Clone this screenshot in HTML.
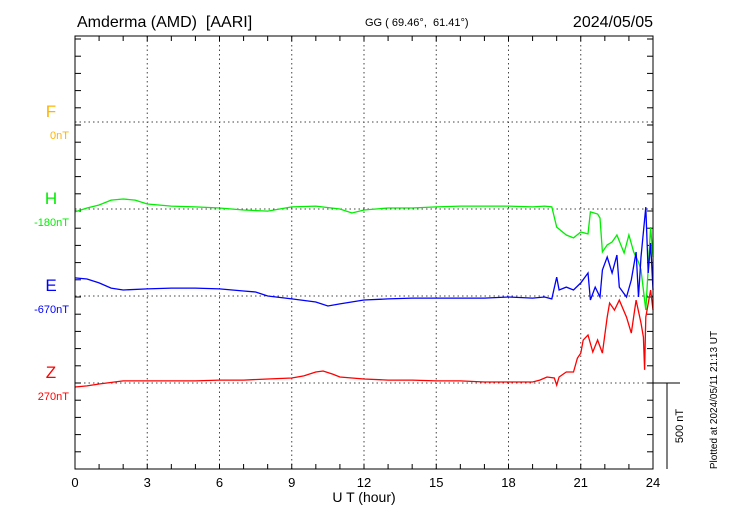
<!DOCTYPE html>
<html><head><meta charset="utf-8"><style>
html,body{margin:0;padding:0;background:#fff;}
svg{display:block;font-family:"Liberation Sans",sans-serif;}
text{white-space:pre;}
</style></head><body>
<svg id="c" width="730" height="520" xmlns="http://www.w3.org/2000/svg">
<text x="77" y="27" font-size="16" xml:space="preserve">Amderma (AMD)  [AARI]</text>
<text x="365" y="26" font-size="11" xml:space="preserve">GG ( 69.46°,  61.41°)</text>
<text x="653" y="27" font-size="16" text-anchor="end">2024/05/05</text>
<text x="364" y="502" font-size="14" text-anchor="middle">U T (hour)</text>
<text transform="translate(717,400) rotate(-90)" font-size="10" text-anchor="middle">Plotted at 2024/05/11 21:13 UT</text>
<text transform="translate(683,426) rotate(-90)" font-size="11" text-anchor="middle">500 nT</text>
<g id="g"></g>
</svg>
<script>
const hours=[0,3,6,9,12,15,18,21,24];
const comps=["F","H","E","Z"];
const baseLabels=["0nT","-180nT","-670nT","270nT"];
const baseVals=[0,-180,-670,270];
const hH=[0,0.5,1,1.5,2,2.5,3,4,5,6,7,8,8.5,9,10,11,11.5,12,13,14,15,16,17,18,19,19.5,19.8,20.0,20.4,20.7,21.0,21.3,21.4,21.7,21.8,21.9,22.1,22.3,22.5,22.8,23.0,23.2,23.4,23.5,23.7,23.9,24.0];
const vH=[-197,-174,-157,-128,-122,-128,-151,-163,-168,-174,-186,-192,-180,-168,-163,-180,-203,-186,-174,-174,-168,-163,-163,-163,-168,-163,-168,-285,-331,-348,-314,-325,-197,-209,-232,-430,-389,-372,-331,-436,-331,-430,-488,-534,-767,-285,-459];
const hE=[0,0.5,1,1.5,2,3,4,5,6,7,7.5,8,9,10,10.5,11,12,13,14,15,16,17,18,19,19.5,19.8,20.0,20.1,20.4,20.7,21.0,21.3,21.4,21.6,21.8,21.9,22.1,22.3,22.5,22.6,22.9,23.1,23.3,23.4,23.5,23.7,23.8,23.9,24.0];
const vE=[-565,-571,-594,-624,-635,-629,-624,-624,-629,-641,-647,-670,-687,-705,-728,-716,-693,-687,-682,-682,-682,-682,-676,-682,-676,-687,-560,-635,-618,-635,-594,-536,-693,-618,-676,-519,-443,-536,-432,-618,-676,-577,-414,-676,-443,-153,-536,-362,-635];
const hZ=[0,0.5,1,2,3,4,5,6,7,8,9,9.5,10,10.3,10.7,11,12,13,14,15,16,17,18,19,19.3,19.6,19.9,20.0,20.1,20.4,20.7,20.86,21.0,21.1,21.3,21.5,21.7,21.9,22.1,22.2,22.4,22.6,22.9,23.1,23.3,23.5,23.6,23.65,23.7,23.9,24.0];
const vZ=[247,253,264,282,282,282,282,287,287,293,299,311,334,340,322,305,293,287,287,282,282,276,276,276,287,305,299,258,305,334,334,415,444,520,549,450,520,444,653,735,694,752,653,560,752,619,537,346,653,810,694];
const X0=75,X1=653,YT=36,YB=469,pxPerNT=86/500;
const baseY=[122,209,296,383];
const colors=["#ffb400","#00ee00","#0000ff","#ff0000"];
const x=h=>X0+(X1-X0)*h/24;
const y=(i,v)=>baseY[i]-(v-baseVals[i])*pxPerNT;
const g=document.getElementById('g');
const NS="http://www.w3.org/2000/svg";
function mk(t,a){const e=document.createElementNS(NS,t);for(const k in a)e.setAttribute(k,a[k]);g.appendChild(e);return e;}
for(let k=1;k<hours.length-1;k++){const e=mk('line',{x1:x(hours[k]),x2:x(hours[k]),y1:YT,y2:YB,stroke:'#444','stroke-dasharray':'1.5,3'});

}
baseY.forEach(b=>{const e=mk('line',{x1:X0,x2:X1,y1:b,y2:b,stroke:'#444','stroke-dasharray':'1.5,3'});

});
for(let h=1;h<24;h++){const e=mk('line',{x1:x(h),x2:x(h),y1:YT,y2:YT+5,stroke:'#000'});


const e2=mk('line',{x1:x(h),x2:x(h),y1:YB,y2:YB-5,stroke:'#000'});

}
for(let yy=YB;yy>YT;yy-=17.2){const e=mk('line',{x1:X1,x2:X1-6,y1:yy,y2:yy,stroke:'#000'});


const e2=mk('line',{x1:X0,x2:X0+6,y1:yy,y2:yy,stroke:'#000'});

}
hours.forEach(h=>{const t=mk('text',{x:x(h),y:487,'font-size':13,'text-anchor':'middle'});t.textContent=h;

});
comps.forEach((c,i)=>{const t=mk('text',{x:51,y:baseY[i]-5,'font-size':17,'text-anchor':'middle',fill:colors[i]});t.textContent=c;


const t2=mk('text',{x:69,y:baseY[i]+17,'font-size':11,'text-anchor':'end',fill:colors[i]});t2.textContent=baseLabels[i];

});
[[1,hH,vH],[2,hE,vE],[3,hZ,vZ]].forEach(([i,hs,vs])=>{
const d=hs.map((h,k)=>(k?'L':'M')+x(h).toFixed(1)+','+y(i,vs[k]).toFixed(1)).join('');
const p=mk('path',{d:d,fill:'none',stroke:colors[i],'stroke-width':1.3});

});
const f=mk('rect',{x:X0,y:YT,width:X1-X0,height:YB-YT,fill:'none',stroke:'#000','stroke-width':1});


const s1=mk('line',{x1:X1,x2:680,y1:383,y2:383,stroke:'#000'});


const s2=mk('line',{x1:667,x2:667,y1:383,y2:383+500*pxPerNT,stroke:'#000'});


</script>
</body></html>
